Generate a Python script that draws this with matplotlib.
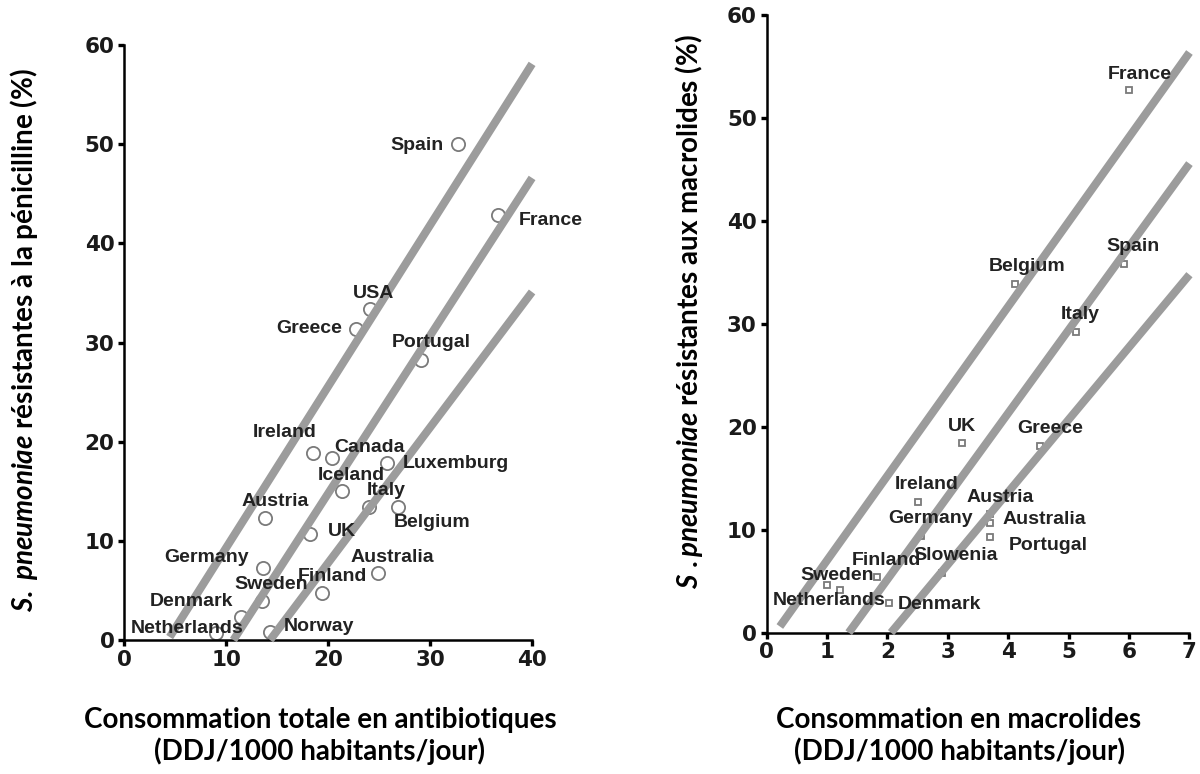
import matplotlib
matplotlib.use("Agg")
import matplotlib.pyplot as plt

plt.rcParams['mathtext.fontset'] = 'custom'
plt.rcParams['mathtext.it'] = 'Lato:italic:bold'
plt.rcParams['mathtext.rm'] = 'Lato:bold'

# --- left panel: total antibiotic use vs penicillin resistance ---
left_countries = ['Netherlands', 'Denmark', 'Sweden', 'Germany', 'Norway', 'Austria',
                  'UK', 'Finland', 'Ireland', 'Canada', 'Iceland', 'Italy', 'Belgium',
                  'Luxemburg', 'Australia', 'Portugal', 'Greece', 'USA', 'Spain', 'France']
left_x = [9.0, 11.4, 13.5, 13.6, 14.3, 13.8, 18.2, 19.4, 18.5, 20.4,
          21.4, 24.0, 26.8, 25.8, 24.9, 29.1, 22.7, 24.1, 32.7, 36.7]
left_y = [0.7, 2.3, 3.9, 7.3, 0.8, 12.3, 10.7, 4.7, 18.9, 18.4,
          15.0, 13.4, 13.4, 17.9, 6.8, 28.2, 31.4, 33.4, 50.0, 42.9]
left_fit_x = [[4.45, 40], [10.7, 40], [14.3, 40]]
left_fit_y = [[0.3, 58.1], [0.0, 46.6], [0.0, 35.1]]

# --- right panel: macrolide use vs macrolide resistance ---
right_countries = ['France', 'Spain', 'Belgium', 'Italy', 'UK', 'Greece', 'Ireland',
                   'Austria', 'Australia', 'Portugal', 'Germany', 'Slowenia', 'Finland',
                   'Sweden', 'Netherlands', 'Denmark']
right_x = [6.0, 5.92, 4.12, 5.12, 3.23, 4.53, 2.5, 3.7, 3.7, 3.7,
           2.55, 2.9, 1.82, 1.0, 1.22, 2.02]
right_y = [52.8, 35.8, 33.9, 29.2, 18.4, 18.1, 12.7, 11.5, 10.7, 9.3,
           9.4, 5.8, 5.4, 4.6, 4.1, 2.9]
right_fit_x = [[0.22, 7.0], [1.36, 7.0], [2.06, 7.0]]
right_fit_y = [[0.6, 56.4], [0.0, 45.6], [0.0, 34.8]]

# label placement: (ha, dx px, dy px downward)
left_off = {'Netherlands': ('center', -29, -5), 'Denmark': ('right', -7, -16),
            'Sweden': ('center', 9, -17), 'Germany': ('right', -14, -10),
            'Norway': ('left', 14, -6), 'Austria': ('center', 10, -17),
            'UK': ('left', 18, -2), 'Finland': ('center', 10, -17),
            'Ireland': ('center', -28, -20), 'Canada': ('left', 2, -10),
            'Iceland': ('center', 9, -16), 'Italy': ('center', 17, -17),
            'Belgium': ('left', -4, 15), 'Luxemburg': ('left', 15, 1),
            'Australia': ('center', 14, -15), 'Portugal': ('center', 10, -18),
            'Greece': ('right', -14, 0), 'USA': ('center', 4, -15),
            'Spain': ('right', -14, 1), 'France': ('left', 20, 6)}
right_off = {'France': ('center', 11, -15), 'Spain': ('center', 9, -18),
             'Belgium': ('center', 12, -17), 'Italy': ('center', 4, -18),
             'UK': ('center', 0, -17), 'Greece': ('center', 10, -18),
             'Ireland': ('center', 9, -18), 'Austria': ('center', 10, -17),
             'Australia': ('left', 12, -3), 'Portugal': ('left', 19, 8),
             'Germany': ('center', 10, -17), 'Slowenia': ('center', 14, -18),
             'Finland': ('center', 10, -17), 'Sweden': ('center', 10, -10),
             'Netherlands': ('center', -11, 10), 'Denmark': ('left', 9, 2)}

line_col = '#9c9c9c'
pt_col = '#7a7a7a'
txt_col = '#222222'

fig = plt.figure(figsize=(12, 7.74), dpi=100)
axl = fig.add_axes([0.1036, 0.1731, 0.3398, 0.7687])
axr = fig.add_axes([0.6388, 0.1826, 0.3524, 0.7974])


def style_axis(ax, xmax, xstep):
    ax.set_xlim(0, xmax)
    ax.set_ylim(0, 60)
    ax.set_xticks(range(0, xmax + 1, xstep))
    ax.set_yticks(range(0, 61, 10))
    for s in ['top', 'right']:
        ax.spines[s].set_visible(False)
    for s in ['left', 'bottom']:
        ax.spines[s].set_linewidth(1.8)
    ax.tick_params(direction='out', length=4, width=2.4, pad=3)
    for lab in ax.get_xticklabels() + ax.get_yticklabels():
        lab.set_fontfamily('DejaVu Sans')
        lab.set_fontweight('bold')
        lab.set_fontsize(15.5)
        lab.set_color('#1a1a1a')


def panel(ax, xs, ys, names, offs, fx, fy, marker, msize):
    ax.plot(xs, ys, linestyle='none', marker=marker, markersize=msize,
            markerfacecolor='white', markeredgecolor=pt_col, markeredgewidth=1.3,
            zorder=2, clip_on=False)
    for lx, ly in zip(fx, fy):
        ax.plot(lx, ly, color=line_col, lw=5.8, solid_capstyle='butt', zorder=3,
                clip_on=False)
    for name, x, y in zip(names, xs, ys):
        ha, dx, dy = offs[name]
        ax.annotate(name, (x, y), xytext=(dx, -dy), textcoords='offset pixels',
                    ha=ha, va='center', fontsize=14, fontweight='bold',
                    family='Liberation Sans', color=txt_col, zorder=4)


style_axis(axl, 40, 10)
style_axis(axr, 7, 1)
panel(axl, left_x, left_y, left_countries, left_off, left_fit_x, left_fit_y, 'o', 9.5)
panel(axr, right_x, right_y, right_countries, right_off, right_fit_x, right_fit_y, 's', 5)

lab_kw = dict(family='Lato', fontweight='bold', fontsize=20, color='black')
fig.text(24 / 1200, 1 - 340 / 774,
         r'$\mathit{S.}$ $\mathit{pneumoniae}$ résistantes à la pénicilline (%)',
         rotation=90, ha='center', va='center', **lab_kw)
fig.text(689 / 1200, 1 - 312 / 774,
         r'$\mathit{S}$ $\mathit{.pneumoniae}$ résistantes aux macrolides (%)',
         rotation=90, ha='center', va='center', **lab_kw)
fig.text(320 / 1200, 1 - 736 / 774,
         'Consommation totale en antibiotiques\n(DDJ/1000 habitants/jour)',
         ha='center', va='center', linespacing=1.2, **lab_kw)
fig.text(959 / 1200, 1 - 736 / 774,
         'Consommation en macrolides\n(DDJ/1000 habitants/jour)',
         ha='center', va='center', linespacing=1.2, **lab_kw)

fig.savefig('out.png', dpi=100, facecolor='white')
